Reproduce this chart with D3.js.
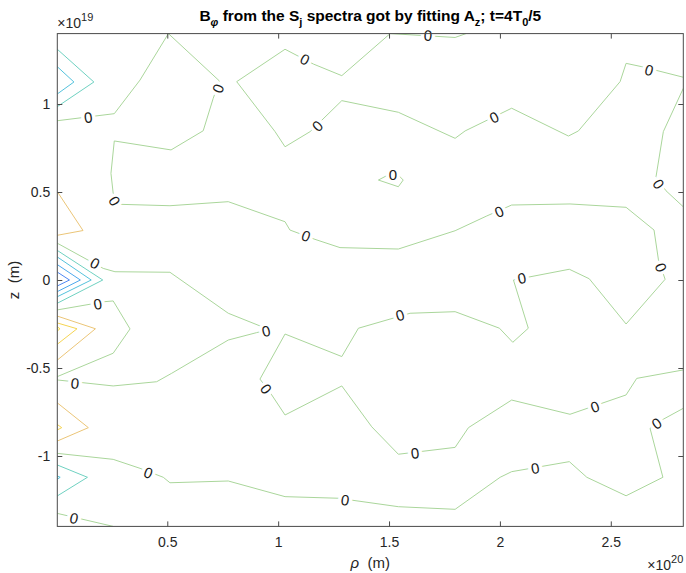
<!DOCTYPE html>
<html>
<head>
<meta charset="utf-8">
<script src="https://cdn.jsdelivr.net/npm/d3@7"></script>
<style>
  html, body { margin: 0; padding: 0; background: #fff; }
  svg { display: block; font-family: "Liberation Sans", Arial, Helvetica, sans-serif; }
</style>
</head>
<body>
<svg id="chart" width="686" height="573"></svg>
<script>
// Axis ranges (rho in units of 1e20 m, z in units of 1e19 m)
const rhoDomain = [0.004, 2.827];
const zDomain = [-1.4, 1.4];
const rhoTicks = [0.5, 1, 1.5, 2, 2.5];
const zTicks = [-1, -0.5, 0, 0.5, 1];

// Contour levels (ordinal) and their colours
const levelKeys = [3, 2, 1, 0, -1, -2, -3, -4];
const levelColors = ["#f8dc3c", "#f5d452", "#ebc577", "#aad69b", "#6fd1c1", "#54c2dc", "#4ca8ec", "#4e87f2"];

// Zero-level contour polylines, [rho, z]
const zeroLineA = [[0.004,0.905],[0.261,0.945],[0.377,1.136],[0.505,1.4],[0.735,1.131],[0.707,1.032],[0.662,0.848],[0.517,0.739],[0.261,0.790],[0.246,0.606],[0.256,0.493],[0.287,0.430],[0.512,0.422],[0.775,0.445],[1.031,0.331],[1.053,0.284],[1.166,0.231],[1.279,0.184],[1.542,0.176],[1.798,0.280],[1.941,0.364],[2.053,0.426],[2.316,0.432],[2.569,0.413],[2.695,0.284],[2.715,0.114],[2.745,0.004],[2.569,-0.250],[2.403,0.007],[2.313,0.061],[2.061,0.000],[2.128,-0.274],[2.058,-0.354],[1.998,-0.274],[1.798,-0.180],[1.595,-0.189],[1.362,-0.274],[1.287,-0.435],[1.031,-0.307],[0.918,-0.563],[0.971,-0.653],[1.031,-0.767],[1.287,-0.602],[1.422,-0.834],[1.542,-0.990],[1.798,-0.951],[1.858,-0.839],[2.053,-0.682],[2.316,-0.763],[2.569,-0.653],[2.617,-0.559],[2.827,-0.511]];
const zeroLineB = [[1.847,1.4],[1.798,1.378],[1.505,1.4],[1.287,1.161],[1.159,1.227],[1.031,1.311],[0.813,1.127],[0.986,0.843],[1.031,0.757],[1.144,0.843],[1.287,1.019],[1.542,0.953],[1.798,0.805],[1.843,0.847],[2.053,0.976],[2.309,0.818],[2.354,0.847],[2.542,1.127],[2.569,1.231],[2.640,1.212],[2.827,1.152]];
const zeroLoopC = [[1.452,0.568],[1.496,0.597],[1.541,0.597],[1.564,0.568],[1.542,0.530],[1.452,0.568]];
const zeroLineD = [[2.827,1.089],[2.737,0.843],[2.704,0.587],[2.749,0.507],[2.827,0.416]];
const zeroLineE = [[0.004,0.209],[0.211,0.066],[0.264,0.047],[0.512,0.044],[0.775,-0.189],[0.926,-0.265],[0.954,-0.284],[0.903,-0.299],[0.775,-0.341],[0.520,-0.530],[0.452,-0.578],[0.256,-0.602],[0.004,-0.568]];
const zeroLineF = [[0.004,-0.170],[0.219,-0.123],[0.256,-0.119],[0.332,-0.278],[0.256,-0.416],[0.004,-0.549]];
const zeroLineG = [[0.004,-0.985],[0.256,-1.019],[0.377,-1.070],[0.482,-1.121],[0.512,-1.152],[0.775,-1.142],[1.031,-1.231],[1.271,-1.240],[1.542,-1.288],[1.798,-1.303],[2.001,-1.121],[2.053,-1.089],[2.313,-1.032],[2.392,-1.121],[2.569,-1.226],[2.735,-1.121],[2.677,-0.843],[2.737,-0.791],[2.827,-0.729]];
const zeroLineH = [[0.004,-1.326],[0.256,-1.4]];

// Label anchor points on the zero contours, [rho, z]
const labelsA = [[0.144,0.924],[0.729,1.088],[0.262,0.449],[1.126,0.25],[1.997,0.388],[2.726,0.072],[2.099,0.010],[1.550,-0.199],[0.945,-0.619],[1.617,-0.983],[2.429,-0.720]];
const labelsB = [[1.676,1.39],[1.121,1.254],[1.177,0.875],[1.974,0.924],[2.673,1.193]];
const labelsC = [[1.518,0.597]];
const labelsD = [[2.715,0.545]];
const labelsE = [[0.174,0.095],[0.945,-0.290],[0.084,-0.587]];
const labelsF = [[0.186,-0.136]];
const labelsG = [[0.414,-1.095],[1.302,-1.25],[2.159,-1.070],[2.707,-0.815]];
const labelsH = [[0.079,-1.354]];

// Non-zero contours near the axis (rho = 0)
const negTopOuter = [[0.004,1.311],[0.169,1.125],[0.004,0.985]];
const negTopInner = [[0.004,1.212],[0.079,1.125],[0.004,1.057]];
const posUpper = [[0.004,0.502],[0.120,0.281],[0.004,0.254]];
const negMid1 = [[0.004,0.168],[0.209,0],[0.004,-0.132]];
const negMid2 = [[0.004,0.131],[0.157,0],[0.004,-0.095]];
const negMid3 = [[0.004,0.0875],[0.108,0],[0.004,-0.066]];
const negMid4 = [[0.004,0.045],[0.059,0],[0.004,-0.034]];
const posLow1 = [[0.004,-0.205],[0.176,-0.277],[0.004,-0.455]];
const posLow2 = [[0.004,-0.244],[0.093,-0.277],[0.004,-0.365]];
const posLow3 = [[0.004,-0.266],[0.016,-0.277],[0.004,-0.290]];
const posDeep1 = [[0.004,-0.698],[0.144,-0.839],[0.004,-0.915]];
const posDeep2 = [[0.004,-0.821],[0.024,-0.839],[0.004,-0.852]];
const negBottom1 = [[0.004,-1.051],[0.140,-1.121],[0.004,-1.227]];
const negBottom2 = [[0.004,-1.114],[0.017,-1.121],[0.004,-1.132]];

const contours = [
  { level: 0, pts: zeroLineA, labels: labelsA },
  { level: 0, pts: zeroLineB, labels: labelsB },
  { level: 0, pts: zeroLoopC, labels: labelsC },
  { level: 0, pts: zeroLineD, labels: labelsD },
  { level: 0, pts: zeroLineE, labels: labelsE },
  { level: 0, pts: zeroLineF, labels: labelsF },
  { level: 0, pts: zeroLineG, labels: labelsG },
  { level: 0, pts: zeroLineH, labels: labelsH },
  { level: -1, pts: negTopOuter, labels: [] },
  { level: -2, pts: negTopInner, labels: [] },
  { level: 1, pts: posUpper, labels: [] },
  { level: -1, pts: negMid1, labels: [] },
  { level: -2, pts: negMid2, labels: [] },
  { level: -3, pts: negMid3, labels: [] },
  { level: -4, pts: negMid4, labels: [] },
  { level: 1, pts: posLow1, labels: [] },
  { level: 2, pts: posLow2, labels: [] },
  { level: 3, pts: posLow3, labels: [] },
  { level: 1, pts: posDeep1, labels: [] },
  { level: 2, pts: posDeep2, labels: [] },
  { level: -1, pts: negBottom1, labels: [] },
  { level: -2, pts: negBottom2, labels: [] }
];

const svg = d3.select("#chart");
const plot = { left: 57.3, right: 683.3, top: 33.6, bottom: 526.4 };

const x = d3.scaleLinear().domain(rhoDomain).range([plot.left, plot.right]);
const y = d3.scaleLinear().domain(zDomain).range([plot.bottom, plot.top]);
const color = d3.scaleOrdinal().domain(levelKeys).range(levelColors);

svg.append("rect").attr("width", 686).attr("height", 573).attr("fill", "#fff");

svg.append("defs").append("clipPath").attr("id", "plotClip")
  .append("rect")
  .attr("x", plot.left).attr("y", plot.top)
  .attr("width", plot.right - plot.left).attr("height", plot.bottom - plot.top);

const line = d3.line().x(d => x(d[0])).y(d => y(d[1]));

const gLines = svg.append("g").attr("clip-path", "url(#plotClip)");
gLines.selectAll("path.contour")
  .data(contours)
  .join("path")
  .attr("class", "contour")
  .attr("d", d => line(d.pts))
  .attr("fill", "none")
  .attr("stroke", d => color(d.level))
  .attr("stroke-width", 1)
  .attr("stroke-linejoin", "round");

// Label angle follows the nearest segment of its contour, kept readable
function labelAngle(pts, p) {
  const px = x(p[0]), py = y(p[1]);
  let best = Infinity, ang = 0;
  for (let i = 0; i < pts.length - 1; i++) {
    const ax = x(pts[i][0]), ay = y(pts[i][1]);
    const bx = x(pts[i + 1][0]), by = y(pts[i + 1][1]);
    const dx = bx - ax, dy = by - ay;
    const len2 = dx * dx + dy * dy || 1;
    let t = ((px - ax) * dx + (py - ay) * dy) / len2;
    t = Math.max(0, Math.min(1, t));
    const qx = ax + t * dx - px, qy = ay + t * dy - py;
    const dist = qx * qx + qy * qy;
    if (dist < best) { best = dist; ang = Math.atan2(dy, dx) * 180 / Math.PI; }
  }
  if (ang > 90) ang -= 180;
  if (ang < -90) ang += 180;
  return ang;
}

const labelData = [];
contours.forEach(c => c.labels.forEach(p => labelData.push({ p, angle: labelAngle(c.pts, p), level: c.level })));

svg.append("g").selectAll("text")
  .data(labelData)
  .join("text")
  .attr("transform", d => `translate(${x(d.p[0])},${y(d.p[1])}) rotate(${d.angle})`)
  .attr("text-anchor", "middle")
  .attr("dy", "0.36em")
  .attr("font-size", 15)
  .attr("fill", "#1a1a1a")
  .attr("stroke", "#fff")
  .attr("stroke-width", 7)
  .attr("paint-order", "stroke")
  .text(d => String(d.level));

// Axes: inward ticks on all four sides
const tickLen = 5;
const axisColor = "#4a4a4a";
const fmt = d => String(d);

const gx = svg.append("g").attr("transform", `translate(0,${plot.bottom})`)
  .call(d3.axisBottom(x).tickValues(rhoTicks).tickFormat(fmt).tickSizeInner(-tickLen).tickSizeOuter(0).tickPadding(11));
const gxTop = svg.append("g").attr("transform", `translate(0,${plot.top})`)
  .call(d3.axisTop(x).tickValues(rhoTicks).tickFormat("").tickSizeInner(-tickLen).tickSizeOuter(0));
const gy = svg.append("g").attr("transform", `translate(${plot.left},0)`)
  .call(d3.axisLeft(y).tickValues(zTicks).tickFormat(fmt).tickSizeInner(-tickLen).tickSizeOuter(0).tickPadding(7));
const gyRight = svg.append("g").attr("transform", `translate(${plot.right},0)`)
  .call(d3.axisRight(y).tickValues(zTicks).tickFormat("").tickSizeInner(-tickLen).tickSizeOuter(0));

[gx, gxTop, gy, gyRight].forEach(g => {
  g.select(".domain").remove();
  g.selectAll(".tick line").attr("stroke", axisColor);
  g.selectAll(".tick text")
    .attr("font-family", "'Liberation Sans', Arial, Helvetica, sans-serif")
    .attr("font-size", 14)
    .attr("fill", "#262626");
});

svg.append("rect")
  .attr("x", plot.left).attr("y", plot.top)
  .attr("width", plot.right - plot.left).attr("height", plot.bottom - plot.top)
  .attr("fill", "none").attr("stroke", axisColor).attr("stroke-width", 1);

// Exponent markers
const exp19 = svg.append("text").attr("x", plot.left).attr("y", 28)
  .attr("font-size", 14).attr("fill", "#262626");
exp19.append("tspan").text("\u00d710");
exp19.append("tspan").attr("dy", -7).attr("font-size", 11).text("19");

const exp20 = svg.append("text").attr("x", plot.right).attr("y", 570)
  .attr("text-anchor", "end").attr("font-size", 14).attr("fill", "#262626");
exp20.append("tspan").text("\u00d710");
exp20.append("tspan").attr("dy", -7).attr("font-size", 11).text("20");

// Axis titles
const xl = svg.append("text").attr("x", (plot.left + plot.right) / 2).attr("y", 568)
  .attr("text-anchor", "middle").attr("font-size", 15).attr("fill", "#262626");
xl.append("tspan").attr("font-style", "italic").text("\u03c1");
xl.append("tspan").attr("xml:space", "preserve").text("  (m)");

svg.append("text")
  .attr("transform", `translate(19,${(plot.top + plot.bottom) / 2}) rotate(-90)`)
  .attr("text-anchor", "middle").attr("font-size", 15).attr("fill", "#262626")
  .attr("xml:space", "preserve")
  .text("z  (m)");

// Title with subscripts
const title = svg.append("text").attr("x", (plot.left + plot.right) / 2).attr("y", 21)
  .attr("text-anchor", "middle").attr("font-size", 15.5).attr("font-weight", "bold").attr("fill", "#000");
const parts = [
  ["B", false], ["\u03c6", true], [" from the S", false], ["j", true],
  [" spectra got by fitting A", false], ["z", true], ["; t=4T", false], ["0", true], ["/5", false]
];
let sub = false;
parts.forEach(([t, isSub]) => {
  const ts = title.append("tspan").attr("xml:space", "preserve").text(t);
  if (isSub) ts.attr("font-size", 11);
  if (isSub && !sub) { ts.attr("dy", 5); if (t === "\u03c6") ts.attr("font-style", "italic"); sub = true; }
  else if (!isSub && sub) { ts.attr("dy", -5); sub = false; }
});
</script>
</body>
</html>
